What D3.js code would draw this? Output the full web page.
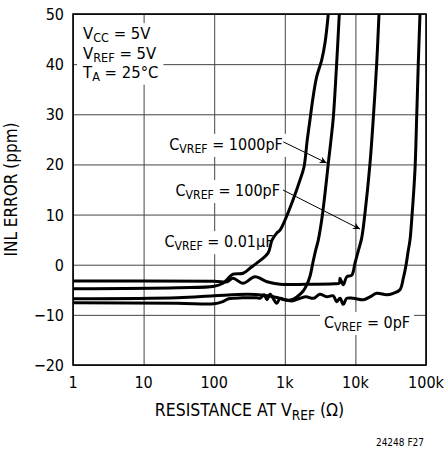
<!DOCTYPE html>
<html>
<head>
<meta charset="utf-8">
<script src="https://d3js.org/d3.v7.min.js"></script>
<style>
    body { margin: 0; background: #fff; }
    text { font-family: 'DejaVu Sans Condensed', 'Liberation Sans Narrow', sans-serif; fill: #000; }
</style>
</head>
<body>
<div id="chart"></div>
<script>
    // tick values and labels
    var xTicks = [1, 10, 100, 1000, 10000, 100000];
    var xTickLabels = ["1", "10", "100", "1k", "10k", "100k"];
    var yTicks = [-20, -10, 0, 10, 20, 30, 40, 50];
    var yTickLabels = ["\u221220", "\u221210", "0", "10", "20", "30", "40", "50"];

    // series: [resistance (ohm), INL error (ppm)]
    var c001uF = [[1,-4.8],[30,-4.6],[100,-4.3],[133,-3.7],[185,-1.9],[256,-1.7],[321,-0.7],[417,0.5],[578,2.3],[659,4.9],[768,6.3],[855,6.9],[1007,8.9],[1306,12.9],[1642,16.9],[1870,19.5],[2080,24.9],[2274,28.9],[2520,33.5],[2830,37.5],[3330,40.8],[3710,44.2],[4130,50]];
    var c1000pF = [[1,-6.8],[30,-6.6],[100,-6.2],[300,-5.9],[500,-6.1],[800,-6.6],[1000,-7.0],[1250,-7.0],[1489,-6.4],[1811,-5.3],[2062,-3.9],[2274,-2.3],[2507,0.5],[2740,2.9],[2980,4.9],[3330,8.9],[3710,14.2],[4130,20.2],[4510,24.9],[4860,29.3],[5430,40.2],[5915,50]];
    var c100pF = [[1,-3.25],[100,-3.3],[152,-3.4],[185,-2.7],[256,-3.7],[378,-2.4],[560,-3.4],[855,-3.9],[2000,-3.9],[5000,-3.8],[5900,-3.7],[6050,-2.7],[6740,-4.0],[7550,-2.4],[8866,-2.1],[9863,0.3],[11060,2.9],[12270,5.3],[13670,10.3],[16100,20.2],[17940,29.3],[20040,40.2],[21600,50]];
    var c0pF = [[1,-7.6],[30,-7.7],[100,-7.8],[130,-7.4],[160,-6.8],[250,-6.6],[400,-6.6],[445,-6.7],[510,-6.0],[560,-7.0],[620,-5.9],[768,-7.7],[855,-6.7],[1007,-7.0],[1180,-7.2],[1306,-7.2],[1642,-6.7],[2000,-6.4],[2550,-6.7],[3130,-5.9],[3930,-6.4],[4860,-6.2],[5430,-7.4],[6050,-6.7],[6740,-7.9],[7550,-6.7],[9340,-6.7],[12940,-7.0],[16100,-6.4],[20040,-5.7],[27800,-6.0],[34400,-5.7],[42800,-5.0],[47700,-2.7],[52100,-0.1],[55600,2.5],[59300,4.9],[62700,8.9],[69800,18.9],[73800,29.5],[77800,40.2],[82200,50]];

    var width = 444, height = 449;
    var mLeft = 73, mRight = 426, mTop = 14, mBottom = 365;

    var svg = d3.select("#chart").append("svg")
        .attr("width", width)
        .attr("height", height);

    var xs = d3.scaleLog().domain([1, 100000]).range([mLeft, mRight]);
    var ys = d3.scaleLinear().domain([-20, 50]).range([mBottom, mTop]);

    var defs = svg.append("defs");
    defs.append("clipPath").attr("id", "clip")
        .append("rect")
        .attr("x", mLeft).attr("y", mTop)
        .attr("width", mRight - mLeft).attr("height", mBottom - mTop);

    var marker = defs.append("marker")
        .attr("id", "arrow")
        .attr("viewBox", "0 0 10 10")
        .attr("refX", 10).attr("refY", 5)
        .attr("markerWidth", 12).attr("markerHeight", 7)
        .attr("markerUnits", "userSpaceOnUse")
        .attr("orient", "auto");
    marker.append("path").attr("d", "M0,0 L10,5 L0,10 L3,5 Z").attr("fill", "#000");

    // grid
    svg.append("g")
        .attr("transform", "translate(0," + mBottom + ")")
        .call(d3.axisBottom(xs).tickValues(xTicks).tickSize(-(mBottom - mTop)).tickFormat(""))
        .call(function(g) {
            g.select(".domain").remove();
            g.selectAll("line").attr("stroke", "#444").attr("stroke-width", 1);
        });
    svg.append("g")
        .attr("transform", "translate(" + mLeft + ",0)")
        .call(d3.axisLeft(ys).tickValues(yTicks).tickSize(-(mRight - mLeft)).tickFormat(""))
        .call(function(g) {
            g.select(".domain").remove();
            g.selectAll("line").attr("stroke", "#444").attr("stroke-width", 1);
        });

    // tick labels
    svg.selectAll(".xlab").data(xTicks).enter().append("text")
        .attr("class", "xlab")
        .attr("x", function(d) { return xs(d); })
        .attr("y", 388)
        .attr("text-anchor", "middle")
        .attr("font-size", 16)
        .text(function(d, i) { return xTickLabels[i]; });
    svg.selectAll(".ylab").data(yTicks).enter().append("text")
        .attr("class", "ylab")
        .attr("x", 64)
        .attr("y", function(d) { return ys(d) + 6; })
        .attr("text-anchor", "end")
        .attr("font-size", 16)
        .text(function(d, i) { return yTickLabels[i]; });

    // white boxes behind annotations
    var boxes = svg.append("g");
    var notes = svg.append("g");

    function label(parts, x, y, anchor, size) {
        size = size || 16;
        var t = notes.append("text")
            .attr("x", x).attr("y", y)
            .attr("text-anchor", anchor || "start")
            .attr("font-size", size);
        parts.forEach(function(p) {
            var s = t.append("tspan").text(p[0]);
            if (p[1] == "sub") s.attr("font-size", size * 0.76).attr("dy", 3);
            if (p[1] == "up") s.attr("dy", -3);
        });
        return t;
    }
    function backBox(t, pad) {
        var b = t.node().getBBox();
        boxes.append("rect")
            .attr("x", b.x - pad).attr("y", b.y - 1)
            .attr("width", b.width + 2 * pad).attr("height", b.height + 2)
            .attr("fill", "#fff");
    }

    var t1 = label([["V"], ["CC", "sub"], [" = 5V", "up"]], xs(1.39), ys(45.0), "start", 16.5);
    var t2 = label([["V"], ["REF", "sub"], [" = 5V", "up"]], xs(1.39), ys(41.1), "start", 16.5);
    var t3 = label([["T"], ["A", "sub"], [" = 25\u00b0C", "up"]], xs(1.39), ys(37.3), "start", 16.5);
    [t1, t2, t3].forEach(function(t) { backBox(t, 5); });

    var a1 = label([["C"], ["VREF", "sub"], [" = 1000pF", "up"]], xs(940), ys(22.9), "end");
    var a2 = label([["C"], ["VREF", "sub"], [" = 100pF", "up"]], xs(855), ys(13.7), "end");
    var a3 = label([["C"], ["VREF", "sub"], [" = 0.01\u00b5F", "up"]], xs(690), ys(3.5), "end");
    var a4 = label([["C"], ["VREF", "sub"], [" = 0pF", "up"]], xs(3590), ys(-12.6), "start");
    [a1, a2, a3, a4].forEach(function(t) { backBox(t, 4); });

    // plot frame
    svg.append("rect")
        .attr("x", mLeft).attr("y", mTop)
        .attr("width", mRight - mLeft).attr("height", mBottom - mTop)
        .attr("fill", "none").attr("stroke", "#000").attr("stroke-width", 1.6);

    // curves
    var line = d3.line()
        .x(function(d) { return xs(d[0]); })
        .y(function(d) { return ys(d[1]); })
        .curve(d3.curveCatmullRom.alpha(0.5));

    svg.append("g").attr("clip-path", "url(#clip)")
        .selectAll("path")
        .data([c001uF, c1000pF, c100pF, c0pF])
        .enter().append("path")
        .attr("d", line)
        .attr("fill", "none")
        .attr("stroke", "#000")
        .attr("stroke-width", 3)
        .attr("stroke-linejoin", "round");

    // arrows
    svg.append("line")
        .attr("x1", xs(952)).attr("y1", ys(24.5))
        .attr("x2", xs(3920)).attr("y2", ys(20.3))
        .attr("stroke", "#000").attr("stroke-width", 1)
        .attr("marker-end", "url(#arrow)");
    svg.append("line")
        .attr("x1", xs(943)).attr("y1", ys(14.9))
        .attr("x2", xs(11620)).attr("y2", ys(7.1))
        .attr("stroke", "#000").attr("stroke-width", 1)
        .attr("marker-end", "url(#arrow)");

    // axis titles
    svg.append("text")
        .attr("transform", "translate(17," + ((mTop + mBottom) / 2) + ") rotate(-90)")
        .attr("text-anchor", "middle")
        .attr("font-size", 17)
        .text("INL ERROR (ppm)");

    var xt = svg.append("text")
        .attr("x", (mLeft + mRight) / 2)
        .attr("y", 416)
        .attr("text-anchor", "middle")
        .attr("font-size", 17.5);
    xt.append("tspan").text("RESISTANCE AT V");
    xt.append("tspan").text("REF").attr("font-size", 13.5).attr("dy", 4);
    xt.append("tspan").text(" (\u03a9)").attr("dy", -4);

    svg.append("text")
        .attr("x", 424).attr("y", 446)
        .attr("text-anchor", "end")
        .attr("font-size", 10)
        .text("24248 F27");
</script>
</body>
</html>
